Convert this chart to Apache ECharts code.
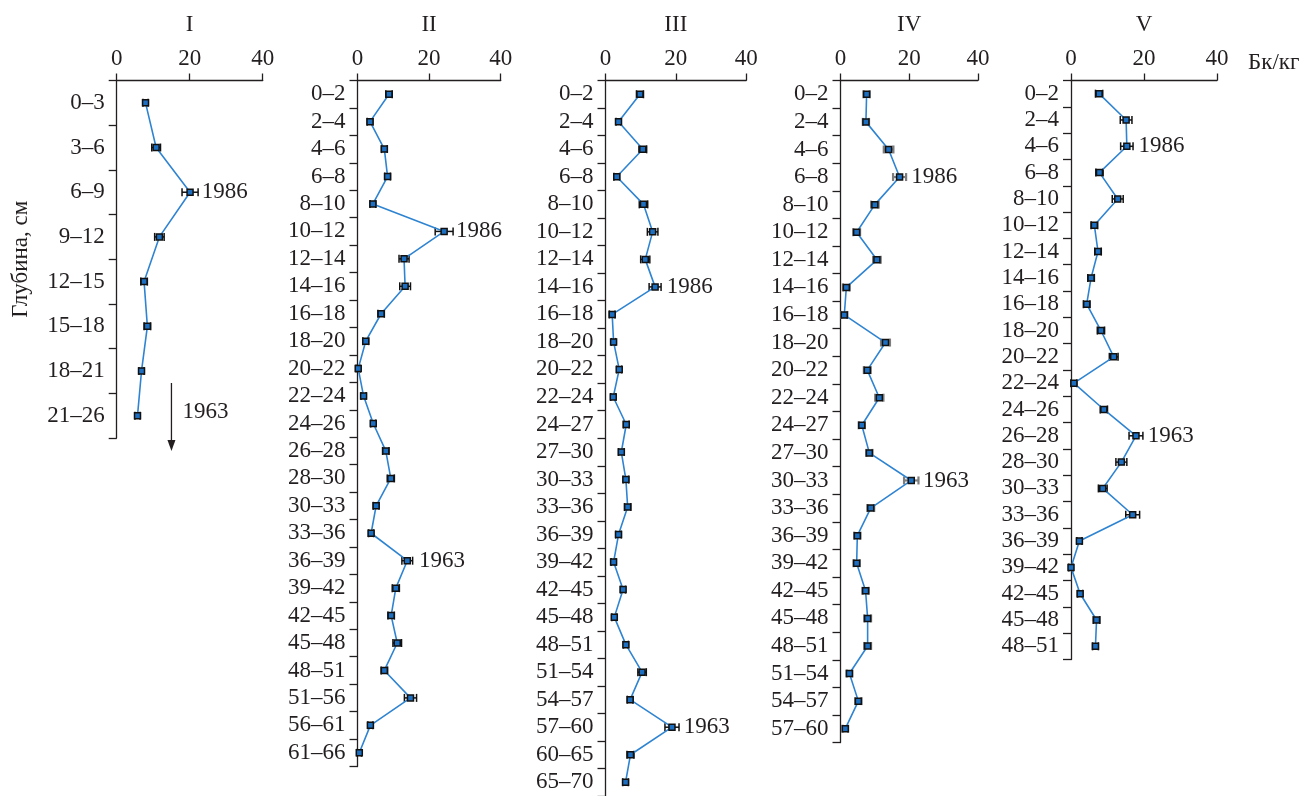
<!DOCTYPE html>
<html>
<head>
<meta charset="utf-8">
<script src="https://cdn.jsdelivr.net/npm/echarts@6/dist/echarts.min.js"></script>
<style>
html,body{margin:0;padding:0;background:#fff;}
#chart{width:1306px;height:796px;}
</style>
</head>
<body>
<div id="chart"></div>
<script>
// ---------- DATA ----------
const panelNames = ['I', 'II', 'III', 'IV', 'V'];
const unitLabel = 'Бк/кг';
const depthTitle = 'Глубина, см';
const xTicks = [0, 20, 40];

const catsI = ['0–3','3–6','6–9','9–12','12–15','15–18','18–21','21–26'];
const valsI = [7.9, 10.8, 20.1, 11.7, 7.5, 8.4, 6.8, 5.7];
const errI  = [0.7, 1.2, 2.2, 1.3, 0.9, 0.9, 0.7, 0.7];
const notesI = {'6–9': '1986'};

const catsII = ['0–2','2–4','4–6','6–8','8–10','10–12','12–14','14–16','16–18','18–20','20–22','22–24','24–26','26–28','28–30','30–33','33–36','36–39','39–42','42–45','45–48','48–51','51–56','56–61','61–66'];
const valsII = [8.8, 3.5, 7.5, 8.4, 4.3, 24.2, 13.0, 13.3, 6.6, 2.3, 0.2, 1.7, 4.4, 7.9, 9.3, 5.2, 3.8, 13.9, 10.7, 9.4, 11.1, 7.5, 14.8, 3.6, 0.5];
const errII  = [0.9, 0.8, 0.8, 0.8, 0.8, 2.5, 1.4, 1.5, 0.9, 0.8, 0.6, 0.7, 0.7, 0.9, 1.0, 0.8, 0.7, 1.5, 1.0, 0.9, 1.2, 0.9, 1.7, 0.7, 0.6];
const notesII = {'10–12': '1986', '36–39': '1963'};

const catsIII = ['0–2','2–4','4–6','6–8','8–10','10–12','12–14','14–16','16–18','18–20','20–22','22–24','24–27','27–30','30–33','33–36','36–39','39–42','42–45','45–48','48–51','51–54','54–57','57–60','60–65','65–70'];
const valsIII = [9.8, 3.7, 10.6, 3.2, 10.8, 13.4, 11.3, 14.1, 1.9, 2.3, 3.9, 2.2, 5.9, 4.5, 5.8, 6.3, 3.7, 2.3, 5.0, 2.5, 5.8, 10.4, 7.0, 18.9, 7.1, 5.7];
const errIII  = [1.0, 0.7, 1.1, 0.8, 1.2, 1.5, 1.3, 1.7, 0.8, 0.6, 0.7, 0.7, 0.8, 0.8, 0.8, 0.9, 0.8, 0.7, 0.7, 0.7, 0.7, 1.2, 0.8, 2.0, 1.0, 0.8];
const notesIII = {'14–16': '1986', '57–60': '1963'};

const catsIV = ['0–2','2–4','4–6','6–8','8–10','10–12','12–14','14–16','16–18','18–20','20–22','22–24','24–27','27–30','30–33','33–36','36–39','39–42','42–45','45–48','48–51','51–54','54–57','57–60'];
const valsIV = [7.6, 7.4, 14.0, 17.2, 10.0, 4.7, 10.6, 1.7, 1.1, 13.1, 7.8, 11.3, 6.2, 8.4, 20.6, 8.8, 4.9, 4.7, 7.3, 7.9, 7.9, 2.6, 5.2, 1.4];
const errIV  = [0.9, 0.9, 1.4, 1.9, 1.1, 1.0, 1.1, 1.0, 0.9, 1.3, 1.0, 1.2, 0.9, 0.9, 2.1, 1.0, 0.9, 0.9, 0.9, 1.0, 1.0, 0.8, 0.9, 0.8];
const notesIV = {'6–8': '1986', '30–33': '1963'};

const catsV = ['0–2','2–4','4–6','6–8','8–10','10–12','12–14','14–16','16–18','18–20','20–22','22–24','24–26','26–28','28–30','30–33','33–36','36–39','39–42','42–45','45–48','48–51'];
const valsV = [7.7, 15.1, 15.3, 7.8, 12.8, 6.4, 7.4, 5.5, 4.3, 8.2, 11.7, 0.8, 9.0, 17.8, 13.8, 8.7, 16.9, 2.3, 0.0, 2.5, 7.0, 6.7];
const errV  = [1.0, 1.6, 1.7, 1.0, 1.5, 0.9, 0.9, 0.9, 0.9, 1.0, 1.2, 0.8, 1.0, 1.9, 1.5, 1.2, 1.9, 0.7, 0.6, 0.7, 0.9, 0.8];
const notesV = {'4–6': '1986', '26–28': '1963'};

const arrowNote = '1963';   // panel I: 1963 horizon lies below the sampled depth
const arrowX = 15;

// ---------- LAYOUT ----------
const FONT = 'Liberation Serif';
const FS = 23;
const TXT = '#231f20';
const layout = [
  {left: 116.7, top: 80.5, width: 146,   height: 357.5},
  {left: 357.5, top: 80.5, width: 143.2, height: 686},
  {left: 605.5, top: 80.5, width: 140.7, height: 720},
  {left: 840.5, top: 80.5, width: 137.4, height: 662},
  {left: 1071,  top: 80.5, width: 146,   height: 579}
];
const panels = [
  {cats: catsI, vals: valsI, err: errI, notes: notesI, errColor: '#111'},
  {cats: catsII, vals: valsII, err: errII, notes: notesII, errColor: '#111'},
  {cats: catsIII, vals: valsIII, err: errIII, notes: notesIII, errColor: '#111'},
  {cats: catsIV, vals: valsIV, err: errIV, notes: notesIV, errColor: '#7d7d7d'},
  {cats: catsV, vals: valsV, err: errV, notes: notesV, errColor: '#111'}
];

const axisLineStyle = {color: '#231f20', width: 1.3};
const grid = [], xAxis = [], yAxis = [], series = [];

panels.forEach((p, i) => {
  grid.push(Object.assign({}, layout[i]));
  xAxis.push({
    gridIndex: i, type: 'value', position: 'top',
    min: xTicks[0], max: xTicks[xTicks.length - 1], interval: xTicks[1] - xTicks[0],
    name: panelNames[i], nameLocation: 'middle', nameGap: 44,
    nameTextStyle: {fontFamily: FONT, fontSize: FS, color: TXT},
    axisLine: {show: true, onZero: false, lineStyle: axisLineStyle},
    axisTick: {show: true, length: 7, lineStyle: axisLineStyle},
    axisLabel: {fontFamily: FONT, fontSize: FS, color: TXT, margin: 10},
    splitLine: {show: false}
  });
  const ya = {
    gridIndex: i, type: 'category', data: p.cats, inverse: true, position: 'left',
    boundaryGap: true,
    axisLine: {show: true, onZero: false, lineStyle: axisLineStyle},
    axisTick: {show: true, length: 8, interval: 0, lineStyle: axisLineStyle},
    axisLabel: {fontFamily: FONT, fontSize: FS, color: TXT, margin: 12, interval: 0},
    splitLine: {show: false}
  };
  if (i === 0) {
    ya.name = depthTitle;
    ya.nameLocation = 'middle';
    ya.nameGap = 84;
    ya.nameRotate = 90;
    ya.nameTextStyle = {fontFamily: FONT, fontSize: FS, color: TXT};
  }
  yAxis.push(ya);

  // error bars
  series.push({
    type: 'custom', xAxisIndex: i, yAxisIndex: i, z: 2, silent: true,
    data: p.cats.map((c, j) => [p.vals[j] - p.err[j], p.vals[j] + p.err[j], j]),
    encode: {x: [0, 1], y: 2},
    renderItem: (params, api) => {
      const j = api.value(2);
      const a = api.coord([api.value(0), j]);
      const b = api.coord([api.value(1), j]);
      const h = 4;
      const st = {stroke: p.errColor, lineWidth: i === 3 ? 2.2 : 1.5};
      return {type: 'group', children: [
        {type: 'line', shape: {x1: a[0], y1: a[1], x2: b[0], y2: b[1]}, style: st},
        {type: 'line', shape: {x1: a[0], y1: a[1] - h, x2: a[0], y2: a[1] + h}, style: st},
        {type: 'line', shape: {x1: b[0], y1: b[1] - h, x2: b[0], y2: b[1] + h}, style: st}
      ]};
    }
  });

  // profile line
  series.push({
    type: 'line', xAxisIndex: i, yAxisIndex: i, z: 3,
    symbol: 'rect', symbolSize: [6, 6],
    lineStyle: {color: '#2f84d2', width: 1.6},
    itemStyle: {color: '#1d6fc2', borderColor: '#111', borderWidth: 1.5},
    data: p.cats.map((c, j) => {
      const item = {value: p.vals[j]};
      if (p.notes[c]) {
        item.label = {show: true, formatter: p.notes[c], position: 'right', distance: 8,
          fontFamily: FONT, fontSize: FS, color: TXT};
      }
      return item;
    }),
    animation: false
  });
});

const chart = echarts.init(document.getElementById('chart'), null, {renderer: 'canvas'});
chart.setOption({
  backgroundColor: '#ffffff',
  animation: false,
  title: [{
    text: unitLabel, left: 1243, top: 46,
    textStyle: {fontFamily: FONT, fontSize: FS, fontWeight: 'normal', color: TXT}
  }],
  grid, xAxis, yAxis, series
});

// arrow annotation in panel I (1963 below the profile)
const ax = chart.convertToPixel({xAxisIndex: 0}, arrowX);
const ayTop = chart.convertToPixel({yAxisIndex: 0}, catsI[catsI.length - 2]) + 12;
const ayBot = layout[0].top + layout[0].height + 13;
chart.setOption({
  graphic: [
    {type: 'line', shape: {x1: ax, y1: ayTop, x2: ax, y2: ayBot - 8}, style: {stroke: '#231f20', lineWidth: 1.3}},
    {type: 'polygon', shape: {points: [[ax - 4, ayBot - 11], [ax + 4, ayBot - 11], [ax, ayBot]]}, style: {fill: '#231f20'}},
    {type: 'text', x: ax + 11, y: (ayTop + ayBot) / 2 - 5, style: {text: arrowNote, font: FS + 'px "' + FONT + '"', fill: TXT, verticalAlign: 'middle'}}
  ]
});
</script>
</body>
</html>
